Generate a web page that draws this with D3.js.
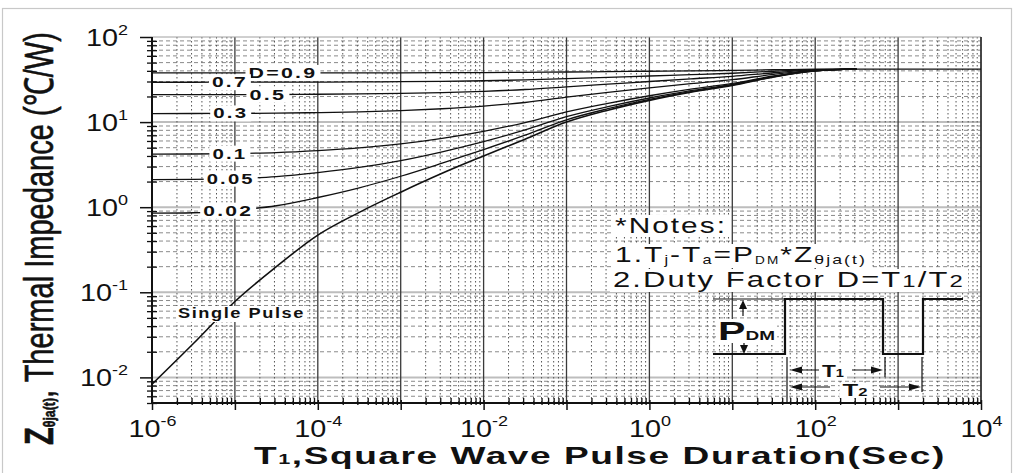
<!DOCTYPE html>
<html>
<head>
<meta charset="utf-8">
<script src="https://cdn.jsdelivr.net/npm/d3@7"></script>
<style>
  body { margin: 0; background: #fff; }
  svg { display: block; }
  text { font-family: "Liberation Sans", Arial, Helvetica, sans-serif; fill: #111; }
</style>
</head>
<body>
<svg id="chart" width="1016" height="473"></svg>
<script>
// Pulse durations T1 (s) shared by every curve
const durations = [1e-6, 3.16e-6, 1e-5, 3.16e-5, 1e-4, 3.16e-4, 1e-3, 3.16e-3, 1e-2,
                   3.16e-2, 1e-1, 3.16e-1, 1, 3.16, 10, 31.6, 100, 316];

// Transient thermal impedance Zθja(t) in ℃/W
const singlePulse = [0.0083, 0.025, 0.078, 0.2, 0.47, 0.87, 1.5, 2.5, 4.0, 6.3, 10, 13.8, 18, 22.4, 27, 34, 40, 42];
const duty002 = [0.85, 0.86, 0.92, 1.04, 1.3, 1.69, 2.31, 3.29, 4.76, 7.01, 10.64, 14.36, 18.48, 22.79, 27.3, 34.1, 40.0, 42];
const duty005 = [2.11, 2.12, 2.17, 2.29, 2.55, 2.93, 3.53, 4.48, 5.9, 8.09, 11.6, 15.2, 19.2, 23.4, 27.75, 34.4, 40.1, 42];
const duty01  = [4.21, 4.22, 4.27, 4.38, 4.62, 4.98, 5.55, 6.45, 7.8, 9.87, 13.2, 16.6, 20.4, 24.4, 28.5, 34.8, 40.2, 42];
const duty03  = [12.6, 12.62, 12.65, 12.74, 12.93, 13.2, 13.65, 14.35, 15.4, 17.0, 19.6, 22.3, 25.2, 28.3, 31.5, 36.4, 40.6, 42];
const duty05  = [21.0, 21.01, 21.04, 21.1, 21.24, 21.44, 21.75, 22.25, 23.0, 24.15, 26.0, 27.9, 30.0, 32.2, 34.5, 38.0, 41.0, 42];
const duty07  = [29.4, 29.41, 29.42, 29.46, 29.54, 29.66, 29.85, 30.15, 30.6, 31.3, 32.4, 33.5, 34.8, 36.1, 37.5, 39.6, 41.4, 42];
const duty09  = [37.8, 37.8, 37.8, 37.82, 37.85, 37.89, 37.95, 38.05, 38.2, 38.43, 38.8, 39.2, 39.6, 40.0, 40.5, 41.2, 41.8, 42];

// Steady-state tail of the D=0.9 curve
const tailDurations = [316, 1e4];
const tailImpedance = [42, 42];

const dutyNames = ["D=0.9", "0.7", "0.5", "0.3", "0.1", "0.05", "0.02"];
const dutySeries = [duty09, duty07, duty05, duty03, duty01, duty005, duty002];

// Tick labels (powers of ten)
const xTickExponents = [-6, -4, -2, 0, 2, 4];
const yTickExponents = [-2, -1, 0, 1, 2];

// Where each curve label sits (pulse duration at label centre) and its drawn width
const dutyLabelAt = [3.8e-5, 8.7e-6, 2.5e-5, 8.9e-6, 8.7e-6, 8.9e-6, 8.3e-6];
const dutyLabelWidth = [69, 36, 37, 35, 35, 48, 50];

const svg = d3.select("#chart");
const L = 152, R = 981, T = 37, B = 403;

const x = d3.scaleLog().domain([1e-6, 1e4]).range([L, R]);
const y = d3.scaleLog().domain([0.005, 100]).range([B, T]);

const pow10 = (m, k) => +(m + "e" + k);
// decade lines and 2..9 subdivisions inside a domain
function logGrid(lo, hi, dom) {
  const major = [], minor = [];
  for (let k = lo; k <= hi; k++) {
    major.push(pow10(1, k));
    for (let m = 2; m <= 9; m++) minor.push(pow10(m, k));
  }
  const inside = v => v >= dom[0] * 0.999 && v <= dom[1] * 1.001;
  return { major: major.filter(inside), minor: minor.filter(inside) };
}
const xg = logGrid(-6, 4, x.domain());
const yg = logGrid(-3, 2, y.domain());

// text helper: builds a text, stretches it horizontally to a width, optional white backing
function placeText(parent, o) {
  const g = parent.append("g");
  const t = g.append("text").attr("x", 0).attr("y", 0);
  if (o.weight) t.style("font-weight", o.weight);
  if (o.spacing) t.style("letter-spacing", o.spacing + "px");
  o.build(t);
  const bb = t.node().getBBox();
  const sx = o.width ? o.width / bb.width : (o.sx || 1);
  const W = bb.width * sx;
  let left = o.x;
  if (o.anchor === "middle") left = o.x - W / 2;
  if (o.anchor === "end") left = o.x - W;
  const x0 = left - bb.x * sx;
  g.attr("transform", `translate(${x0},${o.y}) scale(${sx},1)`);
  if (o.bg) {
    const px = (o.padX ?? 2) / sx, py = o.padY ?? 1;
    const top = o.bgTop ?? (bb.y + 2);
    const bot = o.bgBottom ?? (bb.y + bb.height - 1);
    g.insert("rect", "text")
      .attr("x", bb.x - px).attr("y", top - py)
      .attr("width", bb.width + 2 * px).attr("height", bot - top + 2 * py)
      .attr("fill", "#fff");
  }
  return g;
}
function span(t, str, size, dy, weight) {
  const s = t.append("tspan").text(str).style("font-size", size + "px");
  if (dy) s.attr("dy", dy);
  if (weight) s.style("font-weight", weight);
  return s;
}

// outer frame of the figure
svg.append("rect").attr("x", 2.5).attr("y", 8.5).attr("width", 1009).attr("height", 470)
  .attr("fill", "none").attr("stroke", "#c8c8c8").attr("stroke-width", 1.2);

// grid
const grid = svg.append("g");
grid.selectAll(".hminor").data(yg.minor.filter(v => y(v) > T + 1 && y(v) < B - 1))
  .join("line").attr("x1", L).attr("x2", R).attr("y1", d => y(d)).attr("y2", d => y(d))
  .attr("stroke", "#8a8a8a").attr("stroke-width", 1).attr("stroke-dasharray", "4,3");
grid.selectAll(".hmajor").data(yg.major.filter(v => y(v) > T + 1 && y(v) < B - 1))
  .join("line").attr("x1", L).attr("x2", R).attr("y1", d => y(d)).attr("y2", d => y(d))
  .attr("stroke", "#bdbdbd").attr("stroke-width", 2);
grid.selectAll(".vminor").data(xg.minor)
  .join("line").attr("x1", d => x(d)).attr("x2", d => x(d)).attr("y1", T).attr("y2", B)
  .attr("stroke", "#555").attr("stroke-width", 1).attr("stroke-dasharray", "1.5,2.5");
grid.selectAll(".vmajor").data(xg.major.filter(v => x(v) > L + 1 && x(v) < R - 1))
  .join("line").attr("x1", d => x(d)).attr("x2", d => x(d)).attr("y1", T).attr("y2", B)
  .attr("stroke", "#3a3a3a").attr("stroke-width", 1.3);

// plot frame
svg.append("line").attr("x1", L).attr("x2", R).attr("y1", T).attr("y2", T).attr("stroke", "#a0a0a0").attr("stroke-width", 1);
svg.append("line").attr("x1", R).attr("x2", R).attr("y1", T).attr("y2", B).attr("stroke", "#333").attr("stroke-width", 1.8);
svg.append("line").attr("x1", L).attr("x2", R).attr("y1", B).attr("y2", B).attr("stroke", "#111").attr("stroke-width", 2);
svg.append("line").attr("x1", L).attr("x2", L).attr("y1", T).attr("y2", B).attr("stroke", "#111").attr("stroke-width", 2);

function powerLabel(t, exp) {
  t.append("tspan").text("10");
  t.append("tspan").text(String(exp)).style("font-size", "15px").attr("dy", -11);
}

// bottom axis ticks
const xMinorAxis = svg.append("g").attr("transform", `translate(0,${B})`)
  .call(d3.axisBottom(x).tickValues(xg.minor).tickSizeOuter(0).tickFormat(""));
xMinorAxis.select(".domain").remove();
xMinorAxis.selectAll(".tick line").attr("y1", -5).attr("y2", 2).attr("stroke", "#111").attr("stroke-width", 1.3);
const xMajorAxis = svg.append("g").attr("transform", `translate(0,${B})`)
  .call(d3.axisBottom(x).tickValues(xg.major).tickSizeOuter(0).tickFormat(""));
xMajorAxis.select(".domain").remove();
xMajorAxis.selectAll(".tick line").attr("y1", -3).attr("y2", 7).attr("stroke", "#111").attr("stroke-width", 1.5);
const xLabelAxis = svg.append("g").attr("transform", `translate(0,${B})`)
  .call(d3.axisBottom(x).tickValues(xTickExponents.map(e => pow10(1, e))).tickSize(0).tickFormat(""));
xLabelAxis.select(".domain").remove();
xLabelAxis.selectAll(".tick").each(function (d, i) {
  const t = d3.select(this).append("text")
    .attr("transform", "scale(1.2,1)").attr("text-anchor", "middle").attr("y", 34)
    .style("font-size", "24px").style("fill", "#111");
  powerLabel(t, xTickExponents[i]);
});

// left axis ticks
const yMinorAxis = svg.append("g").attr("transform", `translate(${L},0)`)
  .call(d3.axisLeft(y).tickValues(yg.minor).tickSizeOuter(0).tickFormat(""));
yMinorAxis.select(".domain").remove();
yMinorAxis.selectAll(".tick line").attr("x1", 5).attr("x2", -5).attr("stroke", "#111").attr("stroke-width", 1.3);
const yMajorAxis = svg.append("g").attr("transform", `translate(${L},0)`)
  .call(d3.axisLeft(y).tickValues(yTickExponents.map(e => pow10(1, e))).tickSizeOuter(0).tickFormat(""));
yMajorAxis.select(".domain").remove();
yMajorAxis.selectAll(".tick line").attr("x1", 0).attr("x2", -12).attr("stroke", "#111").attr("stroke-width", 1.5);
yMajorAxis.selectAll(".tick").each(function (d, i) {
  const t = d3.select(this).append("text")
    .attr("transform", "scale(1.2,1)").attr("text-anchor", "end").attr("x", -24 / 1.2).attr("y", 8.6)
    .style("font-size", "24px").style("fill", "#111");
  powerLabel(t, yTickExponents[i]);
});

// curves
const line = d3.line().x(d => x(d[0])).y(d => y(d[1])).curve(d3.curveMonotoneX);
const curves = svg.append("g").attr("fill", "none").attr("stroke", "#111");
dutySeries.forEach(s => {
  curves.append("path").attr("d", line(d3.zip(durations, s))).attr("stroke-width", 1.3);
});
curves.append("path").attr("d", line(d3.zip(tailDurations, tailImpedance))).attr("stroke-width", 1.3);
curves.append("path").attr("d", line(d3.zip(durations, singlePulse))).attr("stroke-width", 1.6);

// value of a curve at a given duration (log-log interpolation between points)
function valueAt(series, t) {
  const i = Math.max(1, Math.min(durations.length - 1, d3.bisectLeft(durations, t)));
  const a = Math.log10(durations[i - 1]), b = Math.log10(durations[i]);
  const f = (Math.log10(t) - a) / (b - a);
  return Math.pow(10, Math.log10(series[i - 1]) + f * (Math.log10(series[i]) - Math.log10(series[i - 1])));
}

// curve labels
const labels = svg.append("g");
dutyNames.forEach((name, i) => {
  const cy = y(valueAt(dutySeries[i], dutyLabelAt[i]));
  placeText(labels, {
    x: x(dutyLabelAt[i]), y: cy + 5, anchor: "middle", width: dutyLabelWidth[i],
    weight: "bold", spacing: 1.5, bg: true, padX: 3, bgTop: -11, bgBottom: 1, padY: 2,
    build: t => span(t, name, 14)
  });
});
placeText(labels, {
  x: 178, y: 318, anchor: "start", width: 127, weight: "bold", spacing: 1.2,
  bg: true, padX: 2, bgTop: -11, bgBottom: 3, padY: 1,
  build: t => span(t, "Single Pulse", 14)
});

// notes
const notes = svg.append("g");
placeText(notes, {
  x: 615, y: 233, width: 112, spacing: 1.5, bg: true, padX: 3, bgTop: -17, bgBottom: 3, padY: 1,
  build: t => span(t, "*Notes:", 22)
});
placeText(notes, {
  x: 615, y: 262, width: 252, spacing: 1.5, bg: true, padX: 3, bgTop: -17, bgBottom: 5, padY: 1,
  build: t => {
    span(t, "1.T", 22); span(t, "j", 12, 2); span(t, "-T", 22, -2); span(t, "a", 12, 2);
    span(t, "=P", 22, -2); span(t, "DM", 10, 2); span(t, "*Z", 22, -2); span(t, "θja(t)", 13, 2);
  }
});
placeText(notes, {
  x: 613, y: 287, width: 352, spacing: 1.5, bg: true, padX: 3, bgTop: -17, bgBottom: 4, padY: 1,
  build: t => {
    span(t, "2.Duty Factor D=T", 22); span(t, "1", 17); span(t, "/T", 22); span(t, "2", 17);
  }
});

// pulse train sketch
const sketch = svg.append("g").attr("fill", "none").attr("stroke", "#111");
const hi = 299, lo = 354;
sketch.append("path").attr("stroke-width", 2.2)
  .attr("d", `M713,${lo}H785V${hi}H883V${lo}H923V${hi}H963`);
sketch.append("path").attr("stroke-width", 1).attr("d", `M713,${hi}H785`);
// edge markers
sketch.append("path").attr("stroke-width", 1.2)
  .attr("d", `M787,357V403 M885,357V377 M922,357V392`);
// PDM arrows and T1/T2 dimension arrows
sketch.append("path").attr("stroke-width", 1.2)
  .attr("d", `M743,307V316 M744,340V347 M801,370H820 M852,370H872 M800,387H830 M880,387H910`);
const heads = svg.append("g").attr("fill", "#111");
heads.append("path").attr("d", "M743,300L739,309L747,309Z");
heads.append("path").attr("d", "M744,354L740,345L748,345Z");
heads.append("path").attr("d", "M790,370L802,366.5L802,373.5Z");
heads.append("path").attr("d", "M883,370L871,366.5L871,373.5Z");
heads.append("path").attr("d", "M790,387L802,383.5L802,390.5Z");
heads.append("path").attr("d", "M921,387L909,383.5L909,390.5Z");

placeText(svg, {
  x: 718, y: 340, width: 57, weight: "bold", bg: true, padX: 2, bgTop: -19, bgBottom: 1, padY: 2,
  build: t => { span(t, "P", 26); span(t, "DM", 12); }
});
placeText(svg, {
  x: 833, y: 377, anchor: "middle", width: 22, weight: "bold", bg: true, padX: 3, bgTop: -12, bgBottom: 1, padY: 1,
  build: t => { span(t, "T", 17); span(t, "1", 11); }
});
placeText(svg, {
  x: 855, y: 396, anchor: "middle", width: 25, weight: "bold", bg: true, padX: 3, bgTop: -12, bgBottom: 1, padY: 1,
  build: t => { span(t, "T", 17); span(t, "2", 11); }
});

// x axis title
placeText(svg, {
  x: 254, y: 464, width: 692, weight: "bold", spacing: 1,
  build: t => { span(t, "T", 24); span(t, "1", 14); span(t, ",Square Wave Pulse Duration(Sec)", 24); }
});

// y axis title (rotated)
const yt = svg.append("g");
const ytText = yt.append("text").attr("x", 0).attr("y", 0).style("stroke", "#111").style("stroke-width", 0.6);
span(ytText, "Z", 40, 0, "bold");
span(ytText, "θja(t)", 17, 2, "bold");
span(ytText, ", Thermal Impedance (℃/W)", 40, -2);
const ybb = ytText.node().getBBox();
const ysx = 413 / ybb.width;
yt.attr("transform", `translate(53,${445 + ybb.x * ysx}) rotate(-90) scale(${ysx},1)`);
</script>
</body>
</html>
